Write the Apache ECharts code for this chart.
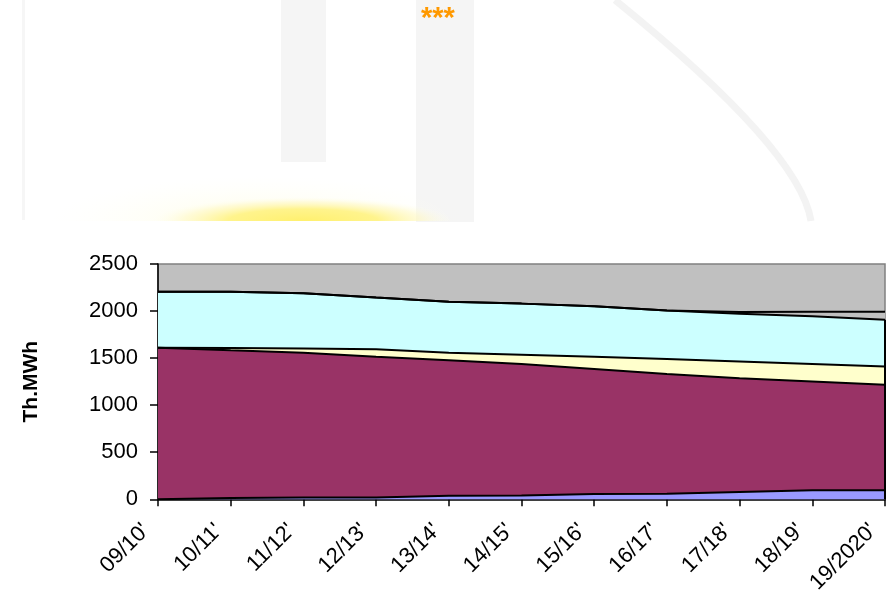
<!DOCTYPE html>
<html>
<head>
<meta charset="utf-8">
<script src="https://cdn.jsdelivr.net/npm/echarts@6/dist/echarts.min.js"></script>
<style>
html,body{margin:0;padding:0;background:#fff;}
#chart{width:890px;height:592px;}
</style>
</head>
<body>
<div id="chart"></div>
<script>
// ---- data ----
var categories = ["09/10'", "10/11'", "11/12'", "12/13'", "13/14'", "14/15'", "15/16'", "16/17'", "17/18'", "18/19'", "19/2020'"];
var blueSeries   = [0, 15, 18, 20, 38, 40, 55, 58, 78, 95, 95];
var maroonSeries = [1610, 1568, 1540, 1495, 1440, 1398, 1330, 1274, 1209, 1157, 1123];
var yellowSeries = [0, 25, 45, 78, 78, 99, 130, 159, 178, 186, 194];
var cyanSeries   = [596, 598, 586, 550, 544, 542, 535, 516, 506, 506, 496];
var greySeries   = [0, 0, 0, 0, 0, 0, 0, 0, 20, 48, 85];
var yTicks = [0, 500, 1000, 1500, 2000, 2500];
var yAxisTitle = 'Th.MWh';
var topMark = '***';

var chart = echarts.init(document.getElementById('chart'));
var last = categories.length - 1;
var rightEdgeTop = blueSeries[last] + maroonSeries[last] + yellowSeries[last] + cyanSeries[last];
var font = '"Liberation Sans", Arial, sans-serif';

function areaSeries(name, data, color, extra) {
  var s = {
    name: name, type: 'line', stack: 'total', data: data,
    showSymbol: false, symbol: 'none', smooth: false,
    lineStyle: {color: '#000', width: 2},
    areaStyle: {color: color, opacity: 1},
    emphasis: {disabled: true}, silent: true
  };
  if (extra) for (var k in extra) s[k] = extra[k];
  return s;
}

var glow = new echarts.graphic.RadialGradient(0.5, 1, 1, [
  {offset: 0, color: 'rgba(255,240,110,1)'},
  {offset: 0.5, color: 'rgba(255,243,135,0.95)'},
  {offset: 0.8, color: 'rgba(255,248,190,0.5)'},
  {offset: 1, color: 'rgba(255,255,235,0)'}
]);
var halo = new echarts.graphic.RadialGradient(0.5, 1, 1, [
  {offset: 0, color: 'rgba(255,250,200,0.5)'},
  {offset: 1, color: 'rgba(255,255,240,0)'}
]);

var option = {
  backgroundColor: '#ffffff',
  animation: false,
  graphic: [
    // faint watermark decoration in the header
    {type: 'rect', silent: true, shape: {x: 22, y: 0, width: 3, height: 220}, style: {fill: '#f6f6f6'}},
    {type: 'rect', silent: true, shape: {x: 281, y: 0, width: 45, height: 162}, style: {fill: '#f5f5f5'}},
    {type: 'rect', silent: true, shape: {x: 416, y: 0, width: 58, height: 222}, style: {fill: '#f5f5f5'}},
    {type: 'bezierCurve', silent: true, shape: {x1: 615, y1: 0, x2: 811, y2: 221, cpx1: 800, cpy1: 150}, style: {stroke: '#f3f3f3', lineWidth: 7, fill: null}},
    {type: 'sector', silent: true, x: 260, y: 221, scaleX: 4.2, scaleY: 0.9,
      shape: {cx: 0, cy: 0, r0: 0, r: 50, startAngle: Math.PI, endAngle: 2 * Math.PI}, style: {fill: halo}},
    {type: 'sector', silent: true, x: 303, y: 221, scaleX: 3.0, scaleY: 0.48,
      shape: {cx: 0, cy: 0, r0: 0, r: 50, startAngle: Math.PI, endAngle: 2 * Math.PI}, style: {fill: glow}},
    {type: 'text', silent: true, left: 421, top: 4,
      style: {text: topMark, fill: '#FF9900', font: 'bold 29px ' + font}}
  ],
  grid: {
    left: 158, right: 5, top: 264, bottom: 92.7,
    containLabel: false, outerBoundsMode: 'none',
    show: true, backgroundColor: '#C0C0C0', borderColor: '#808080', borderWidth: 1.5
  },
  xAxis: {
    type: 'category', data: categories, boundaryGap: false,
    axisLine: {show: true, lineStyle: {color: '#000', width: 1.5}},
    axisTick: {show: true, inside: false, length: 7, alignWithLabel: true, lineStyle: {color: '#000', width: 1.5}},
    axisLabel: {
      rotate: 45, interval: 0, margin: 16, color: '#000',
      fontFamily: font, fontSize: 22, padding: [0, 17, 0, 0]
    },
    splitLine: {show: false}
  },
  yAxis: {
    type: 'value', min: 0, max: 2500, interval: 500,
    name: yAxisTitle, nameLocation: 'middle', nameGap: 116, nameRotate: 90,
    nameTextStyle: {color: '#000', fontFamily: font, fontSize: 21, fontWeight: 'bold'},
    axisLine: {show: true, lineStyle: {color: '#000', width: 1.5}},
    axisTick: {show: true, inside: false, length: 8, lineStyle: {color: '#000', width: 1.5}},
    axisLabel: {
      color: '#000', fontFamily: font, fontSize: 22, margin: 20,
      formatter: function (v) { return yTicks.indexOf(v) >= 0 ? String(v) : ''; }
    },
    splitLine: {show: false}
  },
  series: [
    areaSeries('Blue', blueSeries, '#9999FF'),
    areaSeries('Maroon', maroonSeries, '#993366'),
    areaSeries('Yellow', yellowSeries, '#FFFFCC'),
    areaSeries('Cyan', cyanSeries, '#CCFFFF', {
      markLine: {
        silent: true, symbol: ['none', 'none'], label: {show: false},
        lineStyle: {color: '#000', width: 2, type: 'solid'},
        data: [[{coord: [categories[last], 0]}, {coord: [categories[last], rightEdgeTop]}]]
      }
    }),
    areaSeries('Grey', greySeries, '#C0C0C0')
  ]
};
chart.setOption(option);
</script>
</body>
</html>
